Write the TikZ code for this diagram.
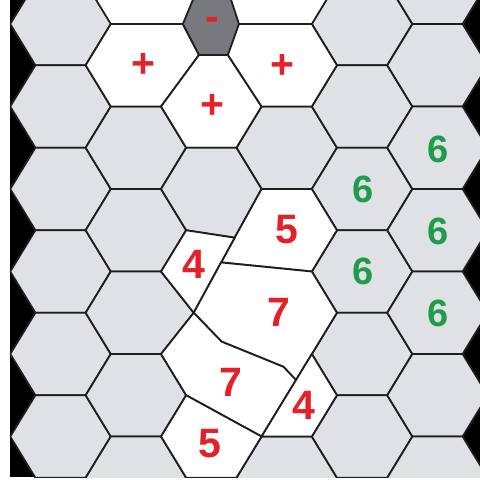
\documentclass[tikz,border=0pt]{standalone}
\usepackage{fontspec}
\setmainfont{Liberation Sans}
\definecolor{cellgrey}{RGB}{224,225,229}
\definecolor{minusgrey}{RGB}{120,121,124}
\definecolor{lblred}{RGB}{228,32,40}
\definecolor{lblgreen}{RGB}{30,155,75}
\definecolor{edgecol}{RGB}{30,30,30}
\begin{document}
\begin{tikzpicture}[x=25.133pt, y=-41.25pt,
  hexcell/.style={fill=cellgrey, draw=edgecol, line width=1.8pt, line join=round},
  whitecell/.style={fill=white, draw=edgecol, line width=1.8pt, line join=round},
  minuscell/.style={fill=minusgrey, draw=edgecol, line width=1.8pt, line join=round},
  edgeline/.style={draw=edgecol, line width=1.8pt, line join=round},
  thinedge/.style={draw=edgecol, line width=1.1pt},
  redlbl/.style={text=lblred, font=\fontsize{41}{41}\selectfont\bfseries, inner sep=0pt},
  greenlbl/.style={text=lblgreen, font=\fontsize{38}{38}\selectfont\bfseries, inner sep=0pt}]
\useasboundingbox (-2.4072,-0.5818) rectangle (16.691,11.0303);
\fill[white] (-2.4072,-0.5818) rectangle (16.691,11.0303);
\begin{scope}
\clip (-2.0094,-0.5818) rectangle (16.691,10.982);
\fill[black] (-2.0094,-0.5818) rectangle (16.691,10.982);
\fill[white] (2,0) -- (1,-1) -- (1,-3) -- (11,-3) -- (11,-1) -- (10,0) -- cycle;
% regular grey hexagons
\foreach \u/\vs in {0/{0,2,4,6,8,10}, 3/{3,5,9,11}, 9/{3,11}, 12/{0,2,4,6,8,10}, 15/{-1,1,3,5,7,9,11}} {
  \foreach \v in \vs {
    \draw[hexcell, shift={(\u,\v)}] (-2,0) -- (-1,-1) -- (1,-1) -- (2,0) -- (1,1) -- (-1,1) -- cycle;
  }
}
% plus cells
\draw[whitecell] (2,0) -- (4.87,0) -- (5.51,0.75) -- (4,2) -- (2,2) -- (1,1) -- cycle;
\draw[whitecell] (5.51,0.75) -- (6.66,0.75) -- (8,2) -- (7,3) -- (5,3) -- (4,2) -- cycle;
\fill[white] (7.10,0) -- (10,0) -- (11,1) -- (10,2) -- (8,2) -- (6.66,0.75) -- cycle;
\draw[edgeline] (10,0) -- (11,1) -- (10,2) -- (8,2) -- (6.66,0.75);
\draw[thinedge] (7.10,0) -- (10,0);
% minus cell
\draw[minuscell] (4.87,0) -- (5.51,0.75) -- (6.66,0.75) -- (7.10,0) -- (6.7,-0.75) -- (5.38,-0.75) -- cycle;
% modified grey cells
\draw[hexcell] (4,4) -- (5,3) -- (7,3) -- (8,4) -- (6.93,5.18) -- (5,5) -- cycle;
\draw[hexcell] (1,7) -- (2,6) -- (4,6) -- (5.3,7) -- (4,8) -- (2,8) -- cycle;
% defect cells
\draw[whitecell] (8,4) -- (10,4) -- (11,5) -- (10,6) -- (6.39,5.78) -- (6.93,5.18) -- cycle;
\draw[whitecell] (5,5) -- (6.93,5.18) -- (6.39,5.78) -- (5.3,7) -- (4,6) -- cycle;
\draw[whitecell] (6.39,5.78) -- (10,6) -- (11,7) -- (10,8) -- (9.37,8.63) -- (8.87,8.31) -- (6.41,7.70) -- (5.3,7) -- cycle;
\draw[whitecell] (5.3,7) -- (6.41,7.70) -- (8.87,8.31) -- (9.37,8.63) -- (8,10) -- (5,9) -- (4,8) -- cycle;
\draw[whitecell] (10,8) -- (11,9) -- (10,10) -- (8,10) -- (9.37,8.63) -- cycle;
\draw[whitecell] (4,10) -- (5,9) -- (8,10) -- (7,11) -- (5,11) -- cycle;
\end{scope}
% labels
\node[redlbl] (plusL) at (3.32,1.0) {+};
\node[redlbl] (plusR) at (8.83,1.02) {+};
\node[redlbl] (plusC) at (6.03,2.0) {+};
\node[redlbl] (minusL) at (6.04,0.01) {-};
\node[redlbl] (fourA) at (5.31,5.82) {4};
\node[redlbl] (fiveA) at (9.01,4.99) {5};
\node[redlbl] (sevenA) at (8.69,6.98) {7};
\node[redlbl] (sevenB) at (6.78,8.70) {7};
\node[redlbl] (fourB) at (9.69,9.24) {4};
\node[redlbl] (fiveB) at (5.95,10.18) {5};
\node[greenlbl] (sixA) at (12.02,4.02) {6};
\node[greenlbl] (sixB) at (12.02,6.0) {6};
\node[greenlbl] (sixC) at (15.03,3.05) {6};
\node[greenlbl] (sixD) at (15.02,5.03) {6};
\node[greenlbl] (sixE) at (15.02,7.02) {6};
\end{tikzpicture}
\end{document}
